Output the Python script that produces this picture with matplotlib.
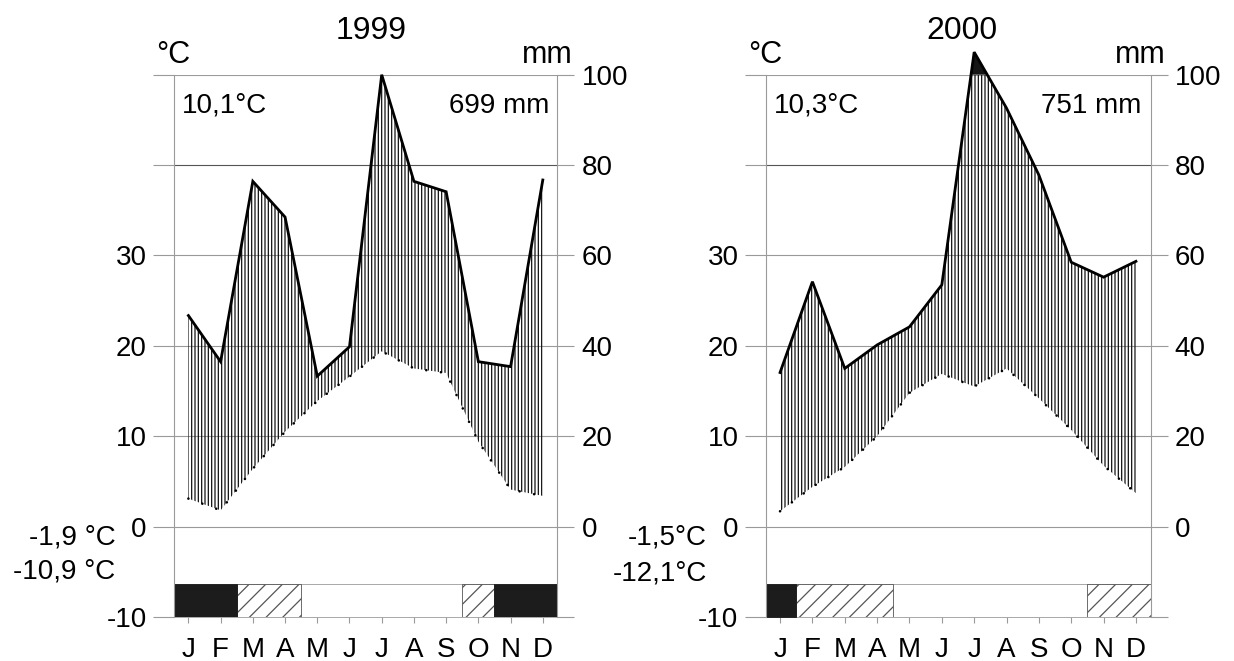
import numpy as np
import matplotlib
matplotlib.use('Agg')
import matplotlib.pyplot as plt

plt.rcParams['font.family'] = ['Liberation Sans', 'DejaVu Sans']
plt.rcParams['hatch.linewidth'] = 0.9

# ---------------- data ----------------
months = ['J', 'F', 'M', 'A', 'M', 'J', 'J', 'A', 'S', 'O', 'N', 'D']

temp_1999 = [3.1, 1.8, 6.4, 10.5, 13.9, 16.6, 19.4, 17.5, 17.0, 9.4, 4.1, 3.4]
prec_1999 = [46.7, 36.5, 76.4, 68.5, 33.3, 39.8, 100.0, 76.4, 74.1, 36.5, 35.4, 76.7]

temp_2000 = [1.7, 4.4, 6.6, 10.0, 14.8, 16.9, 15.5, 17.5, 14.2, 10.7, 6.75, 3.7]
prec_2000 = [34.1, 54.2, 35.0, 40.2, 44.2, 53.5, 150.0, 92.6, 77.8, 58.5, 55.2, 58.7]

# frost periods (month index boundaries): sure frost (black), possible frost (hatched)
frost_sure_1999 = [(-0.5, 1.5), (9.5, 11.5)]
frost_poss_1999 = [(1.5, 3.5), (8.5, 9.5)]
frost_sure_2000 = [(-0.5, 0.5)]
frost_poss_2000 = [(0.5, 3.5), (9.5, 11.5)]

years = ['1999', '2000']
mean_temp = ['10,1°C', '10,3°C']
total_prec = ['699 mm', '751 mm']
min_labels = [['-1,9 °C', '-10,9 °C'], ['-1,5°C', '-12,1°C']]

left_ticks_mm = [-20, 0, 20, 40, 60, 80, 100]
left_labels = ['-10', '0', '10', '20', '30', '', '']
right_labels = ['', '0', '20', '40', '60', '80', '100']

# ---------------- layout ----------------
W, H = 1234, 661
fig = plt.figure(figsize=(W / 100, H / 100), dpi=100)

def fx(px):
    return px / W

def fy(py):
    return 1 - py / H

ax_boxes = [(173.9, 383.4), (765.5, 385.0)]
top_px, bot_px = 74.7, 617.0

GRAY = '#9a9a9a'

def compress(p):
    p = np.asarray(p, float)
    return np.where(p > 100, 100 + (p - 100) / 10.0, p)

panels = [
    (temp_1999, prec_1999, frost_sure_1999, frost_poss_1999),
    (temp_2000, prec_2000, frost_sure_2000, frost_poss_2000),
]

x = np.arange(12)
for i, (t, p, fs, fp) in enumerate(panels):
    left, width = ax_boxes[i]
    ax = fig.add_axes([fx(left), fy(bot_px), width / W, (bot_px - top_px) / H])
    ax.set_xlim(-0.45, 11.45)
    ax.set_ylim(-20, 100)

    t2 = 2 * np.asarray(t, float)
    pc = compress(p)

    # humid period hatch
    ax.fill_between(x, t2, pc, where=pc >= t2, interpolate=True,
                    facecolor='none', edgecolor='#111111', hatch='|||||',
                    linewidth=0, zorder=2)
    # precipitation above 100 mm (compressed scale) in black
    ax.fill_between(x, 100, pc, where=pc > 100, interpolate=True,
                    facecolor='#151515', edgecolor='none', linewidth=0,
                    clip_on=False, zorder=3)
    ax.plot(x, pc, color='black', lw=2.0, solid_joinstyle='miter',
            clip_on=False, zorder=5)
    ax.plot(x, t2, color='black', lw=1.9, linestyle=(0, (0.01, 5.6)),
            dash_capstyle='round', zorder=4)

    # frost bars
    bar_y, bar_h = -20, 7.4
    ax.broken_barh([(-0.5, 12)], (bar_y, bar_h), facecolors='white',
                   edgecolor=GRAY, linewidth=0.6, zorder=2)
    ax.broken_barh([(a, b - a) for a, b in fp], (bar_y, bar_h),
                   facecolors='white', edgecolor='#555555', hatch='//',
                   linewidth=0.6, zorder=2)
    ax.broken_barh([(a, b - a) for a, b in fs], (bar_y, bar_h),
                   facecolors='#1c1c1c', edgecolor='#1c1c1c',
                   linewidth=0.6, zorder=2)

    # axes / ticks
    ax.set_yticks(left_ticks_mm)
    ax.set_yticklabels(left_labels)
    ax.grid(axis='y', color=GRAY, lw=0.8, zorder=1)
    ax.set_axisbelow(True)
    for gl, v in zip(ax.get_ygridlines(), left_ticks_mm):
        if v == 80:
            gl.set_color('#555555')
    ax.tick_params(axis='y', direction='out', length=15, width=0.8,
                   color=GRAY, pad=4.5, labelsize=20)
    ax.set_xticks(x)
    ax.set_xticklabels(months)
    ax.tick_params(axis='x', direction='out', length=4, width=0.8,
                   color=GRAY, pad=10.5, labelsize=20)
    for s in ['top', 'bottom']:
        ax.spines[s].set_visible(False)
    for s in ['left', 'right']:
        ax.spines[s].set_color(GRAY)
        ax.spines[s].set_linewidth(0.8)

    ax2 = ax.twinx()
    ax2.set_ylim(-20, 100)
    ax2.set_yticks(left_ticks_mm)
    ax2.set_yticklabels(right_labels)
    ax2.tick_params(axis='y', direction='out', length=12.5, width=0.8,
                    color=GRAY, pad=5, labelsize=20)
    for s in ax2.spines.values():
        s.set_visible(False)

# ---------------- texts ----------------
title_x = [370.8, 961.9]
degc_x = [156.1, 748.4]
mm_x = [573.1, 1165.4]
mean_x = [181.8, 774.0]
tot_x = [549.4, 1141.7]
min_x = [115.5, 707.0]
min_y = [[545, 578], [545, 580]]

for i in range(2):
    fig.text(fx(title_x[i]), fy(39.3), years[i], ha='center', va='baseline', size=23)
    fig.text(fx(degc_x[i]), fy(63.3), '°C', ha='left', va='baseline', size=22)
    fig.text(fx(mm_x[i]), fy(63.3), 'mm', ha='right', va='baseline', size=22)
    fig.text(fx(mean_x[i]), fy(112.7), mean_temp[i], ha='left', va='baseline', size=20)
    fig.text(fx(tot_x[i]), fy(112.7), total_prec[i], ha='right', va='baseline', size=20)
    fig.text(fx(min_x[i]), fy(min_y[i][0]), min_labels[i][0], ha='right', va='baseline', size=20)
    fig.text(fx(min_x[i]), fy(min_y[i][1]), min_labels[i][1], ha='right', va='baseline', size=20)

fig.savefig('out.png', dpi=100)
